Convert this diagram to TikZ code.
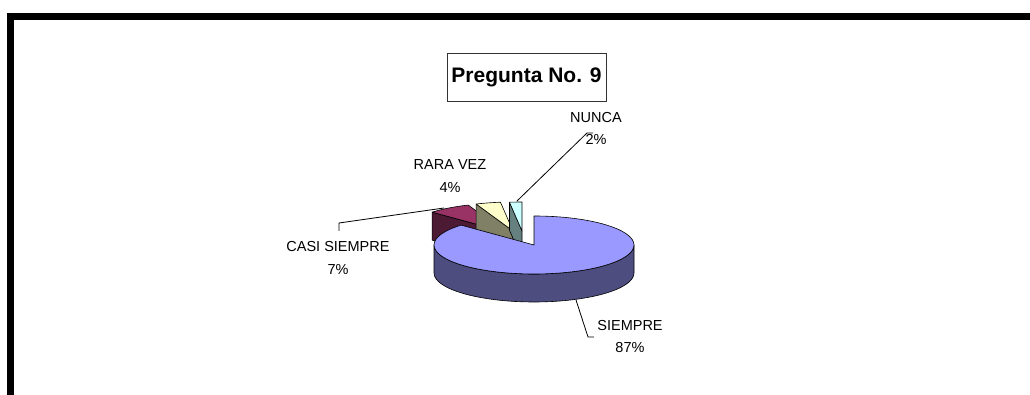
\documentclass[tikz,border=0pt]{standalone}
\usepackage{fontspec}
\setmainfont{Liberation Sans}
\usepackage{tikz}

\definecolor{siempre}{HTML}{9999FF}
\definecolor{siempreside}{HTML}{4D4D80}
\definecolor{casi}{HTML}{993366}
\definecolor{casiside}{HTML}{4D1A33}
\definecolor{rara}{HTML}{FFFFCC}
\definecolor{raraside}{HTML}{808066}
\definecolor{nunca}{HTML}{CCFFFF}
\definecolor{nuncaside}{HTML}{668080}

\tikzset{
  slice/.style={draw=black, line width=0.6pt, line join=round},
  rim/.style={x radius=100pt, y radius=29pt},
  pielabel/.style={align=center, inner sep=0pt, font=\fontsize{14.5}{22.5}\selectfont},
  leader/.style={line width=0.8pt},
}

\begin{document}
\begin{tikzpicture}[x=1pt,y=1pt]
        \useasboundingbox (0,0) rectangle (1030,395);

        % frame
        \fill[black] (7,375) rectangle (1030,382);
        \fill[black] (7,0) rectangle (14,382);

        % title
        \node[draw=black!80, line width=0.8pt, minimum width=159pt, minimum height=48pt, inner sep=0pt,
              font=\fontsize{21}{24}\bfseries] (titulo) at (526.5,318) {Pregunta No. 9};

        % exploded slices (back)
        \filldraw[slice, fill=casiside] (505,163) -- ++(136.8:100pt and 29pt) -- ++(0,-28) -- (505,135) -- cycle;
        \filldraw[slice, fill=casi] (505,163) -- ++(136.8:100pt and 29pt) arc[rim, start angle=136.8, end angle=111.6] -- cycle;

        \filldraw[slice, fill=raraside] (513,164) -- ++(111.6:100pt and 29pt) -- ++(0,-28) -- (513,136) -- cycle;
        \filldraw[slice, fill=rara] (513,164) -- ++(111.6:100pt and 29pt) arc[rim, start angle=111.6, end angle=97.2] -- cycle;

        \filldraw[slice, fill=nuncaside] (522,164) -- ++(97.2:100pt and 29pt) -- ++(0,-28) -- (522,136) -- cycle;
        \filldraw[slice, fill=nunca] (522,164) -- ++(97.2:100pt and 29pt) arc[rim, start angle=97.2, end angle=90] -- cycle;

        % big slice
        \filldraw[slice, fill=siempreside] (434,150) arc[rim, start angle=180, end angle=360] -- ++(0,-28)
              arc[rim, start angle=360, end angle=180] -- cycle;
        \filldraw[slice, fill=siempre] (534,150) -- ++(90:100pt and 29pt) arc[rim, start angle=90, end angle=-223.2] -- cycle;

        % labels
        \node[pielabel] (siempre) at (630,58.5) {SIEMPRE\\87\%};
        \node[pielabel] (casisiempre) at (338,137) {CASI SIEMPRE\\7\%};
        \node[pielabel] (raravez) at (450,219) {RARA VEZ\\4\%};
        \node[pielabel] (nuncalbl) at (596,266.5) {NUNCA\\2\%};

        % leader lines
        \coordinate (pSiempre) at (576,95);
        \coordinate (eSiempre) at (594,58);
        \coordinate (pCasi) at (444,187);
        \coordinate (eCasi) at (339,164);
        \coordinate (pNunca) at (517,194);
        \coordinate (eNunca) at (593,262);
        \draw[leader] (pSiempre) -- (588,58) -- (eSiempre);
        \draw[leader] (pCasi) -- (339,172) -- (eCasi);
        \draw[leader] (pNunca) -- (587,262) -- (eNunca);
    \end{tikzpicture}
\end{document}
